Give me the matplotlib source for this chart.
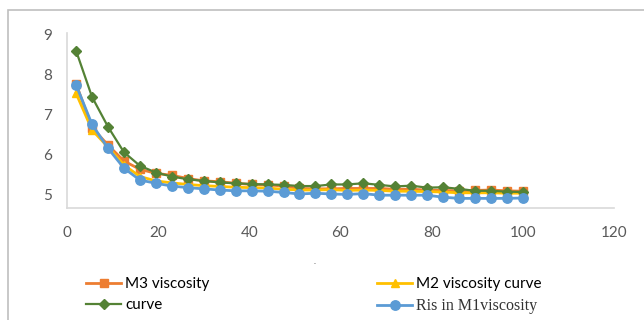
import matplotlib
matplotlib.use("Agg")
import matplotlib.pyplot as plt
from matplotlib.patches import Rectangle

x = [2 + 3.5 * i for i in range(29)]

m3_viscosity = [7.77, 6.67, 6.23, 5.83, 5.62, 5.52, 5.47, 5.39, 5.33, 5.31,
                5.27, 5.24, 5.23, 5.20, 5.14, 5.13, 5.13, 5.14, 5.14, 5.14,
                5.12, 5.12, 5.10, 5.09, 5.08, 5.09, 5.10, 5.08, 5.07]
m2_viscosity_curve = [7.53, 6.61, 6.18, 5.73, 5.44, 5.33, 5.28, 5.24, 5.21, 5.19,
                      5.17, 5.16, 5.15, 5.12, 5.10, 5.10, 5.11, 5.09, 5.10, 5.09,
                      5.07, 5.07, 5.06, 5.05, 5.03, 5.03, 5.03, 5.02, 5.02]
curve = [8.60, 7.44, 6.69, 6.05, 5.71, 5.54, 5.44, 5.37, 5.33, 5.29,
         5.27, 5.25, 5.24, 5.23, 5.20, 5.20, 5.24, 5.24, 5.27, 5.23,
         5.19, 5.21, 5.16, 5.17, 5.13, 5.08, 5.08, 5.06, 5.05]
ris_m1_viscosity = [7.74, 6.75, 6.15, 5.65, 5.35, 5.27, 5.20, 5.16, 5.13, 5.10,
                    5.08, 5.08, 5.07, 5.04, 5.00, 5.02, 5.00, 4.99, 5.01, 4.97,
                    4.97, 4.97, 4.97, 4.92, 4.89, 4.89, 4.89, 4.89, 4.90]

labels = ["M3 viscosity", "M2 viscosity curve", "curve", "Ris in M1viscosity"]
x_ticks = [0, 20, 40, 60, 80, 100, 120]
y_ticks = [5, 6, 7, 8, 9]

plt.rcParams["font.family"] = ["Lato", "DejaVu Sans"]

W, H = 644, 320
fig = plt.figure(figsize=(W / 100, H / 100), dpi=100)
ax = fig.add_axes([67 / W, 1 - 208 / H, (614 - 67) / W, (208 - 33) / H])

c_orange = "#ED7D31"
c_yellow = "#FFC000"
c_green = "#548235"
c_blue = "#5B9BD5"

l1, = ax.plot(x, m3_viscosity, color=c_orange, lw=2, marker="s", ms=6, zorder=3)
l2, = ax.plot(x, m2_viscosity_curve, color=c_yellow, lw=2, marker="^", ms=6, zorder=4)
l3, = ax.plot(x, curve, color=c_green, lw=1.6, marker="D", ms=4.8, zorder=5)
l4, = ax.plot(x, ris_m1_viscosity, color=c_blue, lw=2, marker="o", ms=6.8, zorder=6)

ax.set_xlim(0, 120)
ax.set_ylim(4.648, 9.05)
ax.set_xticks(x_ticks)
ax.set_yticks(y_ticks)
ax.tick_params(length=0, labelsize=11, colors="#595959", pad=11)
ax.tick_params(axis="x", pad=13)
for s in ["top", "right"]:
    ax.spines[s].set_visible(False)
for s in ["left", "bottom"]:
    ax.spines[s].set_color("#D9D9D9")
    ax.spines[s].set_linewidth(1.2)

# outer chart border
fig.patches.append(Rectangle((8 / W, -0.1), 1.2, 1 - 9.5 / H + 0.1,
                             transform=fig.transFigure, fill=False,
                             edgecolor="#BFBFBF", lw=1.2))

fig.text(315 / W, 1 - 262 / H, ".", fontsize=6, color="#595959", ha="center", va="center")

leg_kw = dict(loc="upper left", frameon=False, fontsize=11, handlelength=2.3,
              handletextpad=0.25, labelspacing=0.45, borderpad=0, borderaxespad=0)
leg1 = fig.legend([l1, l3], [labels[0], labels[2]],
                  bbox_to_anchor=(86 / W, 1 - 277 / H), **leg_kw)
leg2 = fig.legend([l2, l4], [labels[1], labels[3]],
                  bbox_to_anchor=(377 / W, 1 - 277 / H), **leg_kw)
for t in leg1.get_texts() + leg2.get_texts():
    t.set_color("black")
leg2.get_texts()[1].set_fontfamily(["Liberation Serif", "DejaVu Serif"])
leg2.get_texts()[1].set_fontsize(11.5)
leg2.get_texts()[1].set_color("#333333")

fig.savefig("out.png", dpi=100)
